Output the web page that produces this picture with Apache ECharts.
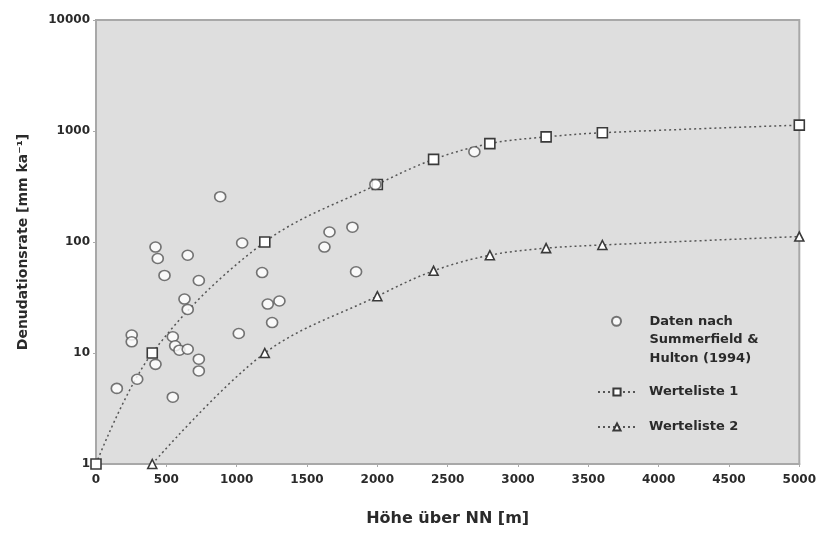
<!DOCTYPE html>
<html>
<head>
<meta charset="utf-8">
<script src="https://cdn.jsdelivr.net/npm/echarts@6/dist/echarts.min.js"></script>
<style>html,body{margin:0;padding:0;background:#fff}#c{width:819px;height:533px}</style>
</head>
<body>
<div id="c"></div>
<script>
// Data
const summerfieldX = [148, 254, 254, 293, 423, 439, 423, 487, 546, 546, 563, 593, 629, 652, 652, 652, 731, 731, 731, 883, 1015, 1039, 1181, 1221, 1252, 1304, 1624, 1660, 1823, 1849, 1986, 2690];
const summerfieldY = [4.8, 14.5, 12.6, 5.8, 90, 71, 7.9, 50, 14, 4.0, 11.6, 10.6, 30.6, 76, 24.7, 10.8, 45, 8.8, 6.9, 256, 15, 98, 53, 27.6, 18.8, 29.4, 90, 123, 136, 54, 330, 650];
const liste1X = [0, 400, 1200, 2000, 2400, 2800, 3200, 3600, 5000];
const liste1Y = [1, 10, 100, 330, 555, 770, 885, 965, 1130];
const liste2X = [400, 1200, 2000, 2400, 2800, 3200, 3600, 5000];
const liste2Y = [1, 10, 32.5, 55, 76, 88, 94, 112];
const yTickLabels = ['1', '10', '100', '1000', '10000'];
const xTickStep = 500;

const nameS = 'Daten nach Summerfield & Hulton (1994)';
const name1 = 'Werteliste 1';
const name2 = 'Werteliste 2';

const pair = (xs, ys) => xs.map((x, i) => [x, ys[i]]);
const txt = '#2a2a2a';
const font = 'DejaVu Sans';

const chart = echarts.init(document.getElementById('c'));
chart.setOption({
  animation: false,
  backgroundColor: '#ffffff',
  grid: {
    left: 96, right: 19, top: 20, bottom: 69,
    show: true, backgroundColor: '#dedede', borderColor: '#a8a8a8', borderWidth: 2
  },
  xAxis: {
    type: 'value', min: 0, max: 5000, interval: xTickStep,
    name: 'Höhe über NN [m]', nameLocation: 'middle', nameGap: 47,
    nameTextStyle: { fontFamily: font, fontWeight: 'bold', fontSize: 16, color: txt },
    axisLine: { show: true, lineStyle: { color: '#a8a8a8', width: 2 } },
    axisTick: { show: true, length: 3, lineStyle: { color: '#aaa' } },
    axisLabel: { fontFamily: font, fontWeight: 'bold', fontSize: 12, color: txt, margin: 10,
      formatter: v => String(v) },
    splitLine: { show: false }
  },
  yAxis: {
    type: 'log', logBase: 10, min: 1, max: 10000,
    name: 'Denudationsrate [mm ka⁻¹]', nameLocation: 'middle', nameGap: 66, nameRotate: 90,
    nameTextStyle: { fontFamily: font, fontWeight: 'bold', fontSize: 14, color: txt },
    axisLine: { show: true, lineStyle: { color: '#a8a8a8', width: 2 } },
    axisTick: { show: true, length: 3, lineStyle: { color: '#aaa' } },
    axisLabel: {
      fontFamily: font, fontWeight: 'bold', fontSize: 12, color: txt, margin: 6,
      formatter: v => { const s = String(Math.round(v)); return yTickLabels.includes(s) ? s : ''; }
    },
    splitLine: { show: false }
  },
  legend: [
    {
      data: [nameS], orient: 'vertical', left: 606, top: 270,
      itemWidth: 38, itemHeight: 9, itemGap: 10,
      formatter: () => '\n\nDaten nach\nSummerfield &\nHulton (1994)',
      textStyle: { fontFamily: font, fontWeight: 'bold', fontSize: 13, color: txt, lineHeight: 18.5, padding: [0, 0, 0, 9] }
    },
    {
      data: [name1, name2], orient: 'vertical', left: 592, top: 379,
      itemWidth: 38, itemHeight: 9, itemGap: 19,
      textStyle: { fontFamily: font, fontWeight: 'bold', fontSize: 13, color: txt, lineHeight: 16, padding: [0, 0, 0, 8] }
    }
  ],
  series: [
    {
      name: name1, type: 'line', smooth: 0.35, data: pair(liste1X, liste1Y),
      symbol: 'rect', symbolSize: 10, showAllSymbol: true,
      itemStyle: { color: '#ffffff', borderColor: '#3a3a3a', borderWidth: 1.6 },
      lineStyle: { color: '#555', width: 1.5, type: [2, 3] }, z: 3
    },
    {
      name: name2, type: 'line', smooth: 0.35, data: pair(liste2X, liste2Y),
      symbol: 'triangle', symbolSize: 9, showAllSymbol: true,
      itemStyle: { color: '#ffffff', borderColor: '#3a3a3a', borderWidth: 1.6 },
      lineStyle: { color: '#555', width: 1.5, type: [2, 3] }, z: 3
    },
    {
      name: nameS, type: 'scatter', data: pair(summerfieldX, summerfieldY),
      symbol: 'circle', symbolSize: [11, 10],
      itemStyle: { color: '#ffffff', borderColor: '#555', borderWidth: 1.6 }, z: 4
    }
  ]
});
</script>
</body>
</html>
